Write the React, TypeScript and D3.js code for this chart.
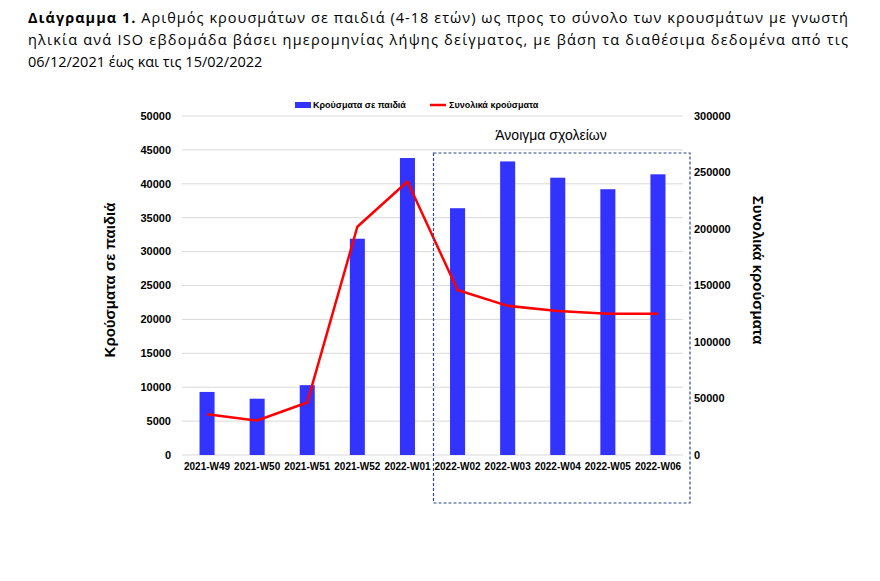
import * as d3 from 'd3'

const WEEKS = ['2021-W49', '2021-W50', '2021-W51', '2021-W52', '2022-W01', '2022-W02', '2022-W03', '2022-W04', '2022-W05', '2022-W06']
const CHILD_CASES = [9300, 8300, 10300, 31900, 43800, 36400, 43300, 40900, 39200, 41400]
const TOTAL_CASES = [36000, 30500, 46500, 202000, 242000, 146000, 132000, 127500, 125000, 125000]
const LEFT_TICKS = [0, 5000, 10000, 15000, 20000, 25000, 30000, 35000, 40000, 45000, 50000]
const RIGHT_TICKS = [0, 50000, 100000, 150000, 200000, 250000, 300000]
const SCHOOL_WEEKS = ['2022-W02', '2022-W06']

const TITLE_LINES = [
  { bold: 'Διάγραμμα 1.', rest: ' Αριθμός κρουσμάτων σε παιδιά (4-18 ετών) ως προς το σύνολο των κρουσμάτων με γνωστή', justify: true },
  { bold: '', rest: 'ηλικία ανά ISO εβδομάδα βάσει ημερομηνίας λήψης δείγματος, με βάση τα διαθέσιμα δεδομένα από τις', justify: true },
  { bold: '', rest: '06/12/2021 έως και τις 15/02/2022', justify: false },
]

const W = 880
const H = 581
const m = { left: 182, right: 683, top: 116, bottom: 455 }
const AX = 'Liberation Sans, Arial, sans-serif'

export default function App() {
  const x = d3.scaleBand<string>().domain(WEEKS).range([m.left, m.right]).paddingInner(0.7).paddingOuter(0.35)
  const yL = d3.scaleLinear().domain([0, 50000]).range([m.bottom, m.top])
  const yR = d3.scaleLinear().domain([0, 300000]).range([m.bottom, m.top])
  const cx = (w: string) => (x(w) ?? 0) + x.bandwidth() / 2
  const step = x.step()

  const line = d3.line<number>()
    .x((_, i) => cx(WEEKS[i]))
    .y(d => yR(d))

  const boxX0 = cx(SCHOOL_WEEKS[0]) - step / 2 + 1
  const boxX1 = cx(SCHOOL_WEEKS[1]) + step / 2 + 7

  return (
    <svg width={W} height={H} style={{ position: 'absolute', left: 0, top: 0, background: '#fff' }}>
      {/* title */}
      {TITLE_LINES.map((l, i) => (
        <text key={i} x={28} y={23 + i * 22} fontFamily="Open Sans, sans-serif" fontSize={14.5} fill="#000"
          textLength={l.justify ? 820 : undefined} lengthAdjust="spacing">
          {l.bold && <tspan fontWeight="bold">{l.bold}</tspan>}
          <tspan>{l.rest}</tspan>
        </text>
      ))}

      {/* grid */}
      {LEFT_TICKS.map(t => (
        <line key={t} x1={m.left} x2={m.right} y1={yL(t)} y2={yL(t)} stroke="#d9d9d9" strokeWidth={1} />
      ))}

      {/* left ticks */}
      {LEFT_TICKS.map(t => (
        <text key={t} x={171} y={yL(t)} dy="0.35em" textAnchor="end" fontFamily={AX} fontWeight="bold" fontSize={11} fill="#000">{t}</text>
      ))}
      {/* right ticks */}
      {RIGHT_TICKS.map(t => (
        <text key={t} x={694} y={yR(t)} dy="0.35em" textAnchor="start" fontFamily={AX} fontWeight="bold" fontSize={11} fill="#000">{t}</text>
      ))}

      {/* bars */}
      {WEEKS.map((w, i) => (
        <rect key={w} x={x(w)} y={yL(CHILD_CASES[i])} width={x.bandwidth()} height={m.bottom - yL(CHILD_CASES[i])} fill="#3333ff" />
      ))}

      {/* line */}
      <path d={line(TOTAL_CASES) ?? ''} fill="none" stroke="#ff0000" strokeWidth={2.5} strokeLinejoin="round" />

      {/* x labels */}
      {WEEKS.map(w => (
        <text key={w} x={cx(w)} y={466} dy="0.35em" textAnchor="middle" fontFamily={AX} fontWeight="bold" fontSize={10} fill="#000">{w}</text>
      ))}

      {/* school box */}
      <rect x={boxX0} y={153} width={boxX1 - boxX0} height={350} fill="none" stroke="#2f4b8a" strokeWidth={1.2} strokeDasharray="3,2" />
      <text x={551} y={135} dy="0.35em" textAnchor="middle" fontFamily={AX} fontSize={14} fill="#000">Άνοιγμα σχολείων</text>

      {/* axis titles */}
      <text transform="translate(110,280) rotate(-90)" textAnchor="middle" dy="0.35em" fontFamily={AX} fontWeight="bold" fontSize={15} fill="#000">Κρούσματα σε παιδιά</text>
      <text transform="translate(758,270) rotate(90)" textAnchor="middle" dy="0.35em" fontFamily={AX} fontWeight="bold" fontSize={15} fill="#000">Συνολικά κρούσματα</text>

      {/* legend */}
      <rect x={295} y={102} width={16} height={6} fill="#3333ff" />
      <text x={313} y={105} dy="0.35em" fontFamily={AX} fontWeight="bold" fontSize={9} fill="#000">Κρούσματα σε παιδιά</text>
      <line x1={430} x2={446} y1={105} y2={105} stroke="#ff0000" strokeWidth={2.5} />
      <text x={449} y={105} dy="0.35em" fontFamily={AX} fontWeight="bold" fontSize={9} fill="#000">Συνολικά κρούσματα</text>
    </svg>
  )
}
